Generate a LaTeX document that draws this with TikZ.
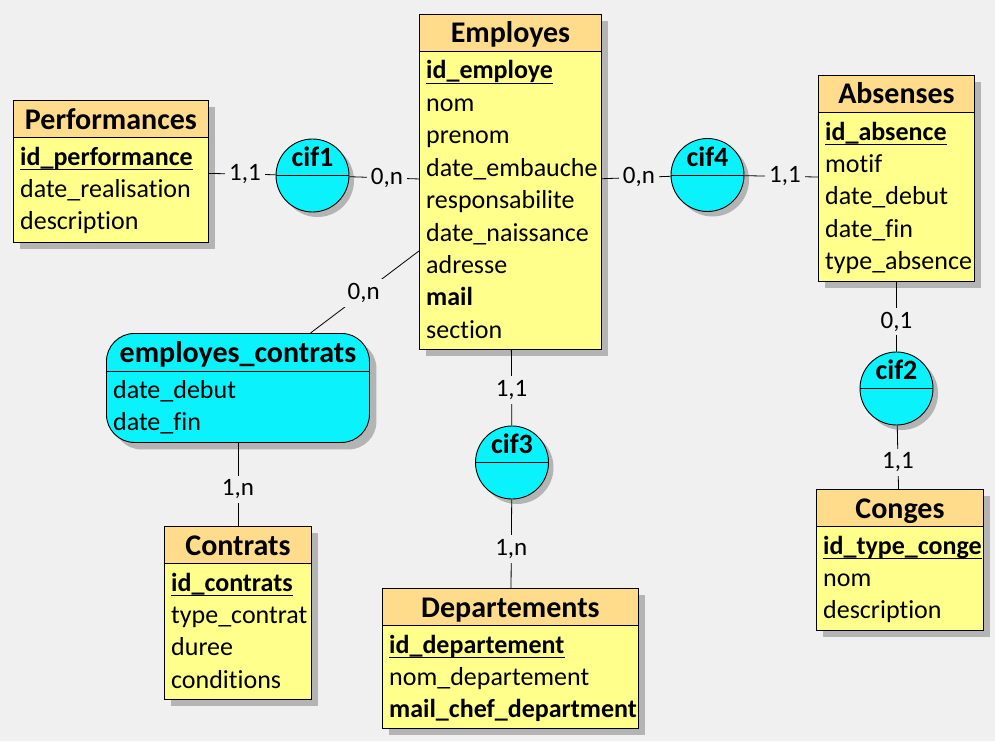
\documentclass[tikz,border=0pt]{standalone}
\usepackage{fontspec}
\setmainfont{Carlito}[Ligatures=NoCommon]
\usetikzlibrary{shadows,calc}

\definecolor{bg}{HTML}{F0F0F0}
\definecolor{hdr}{HTML}{FFDC8C}
\definecolor{entfill}{HTML}{FFFF8C}
\definecolor{assocfill}{HTML}{0AF2FC}
\definecolor{shade}{HTML}{B4B4B4}

\tikzset{
  x=1pt, y=-1pt,
  outline/.style={draw=black, line width=0.9pt},
  entbox/.style={outline, fill=entfill, rectangle, anchor=north west, inner sep=0pt,
    drop shadow={shadow xshift=7pt, shadow yshift=-7pt, opacity=1, fill=shade}},
  assocbox/.style={outline, fill=assocfill, rectangle, rounded corners=28pt, anchor=north west, inner sep=0pt,
    drop shadow={shadow xshift=7pt, shadow yshift=-7pt, opacity=1, fill=shade}},
  cifcircle/.style={outline, fill=assocfill, circle, minimum size=73pt, inner sep=0pt,
    drop shadow={shadow xshift=5pt, shadow yshift=-5pt, opacity=1, fill=shade}},
  titletext/.style={font=\fontsize{30}{30}\selectfont\bfseries, anchor=base, inner sep=0pt},
  ciftext/.style={font=\fontsize{28}{28}\selectfont\bfseries, anchor=base, inner sep=0pt},
  attrtext/.style={font=\fontsize{26}{26}\selectfont, anchor=base west, inner sep=0pt},
  keytext/.style={font=\fontsize{26}{26}\selectfont\bfseries, anchor=base west, inner sep=0pt},
  keyline/.style={line width=1.3pt},
  link/.style={line width=0.8pt},
  card/.style={fill=bg, inner sep=4pt, font=\fontsize{25}{25}\selectfont},
}

% entity box: name, x, y, width, height, title
\newcommand\entitybox[6]{%
  \node[entbox, minimum width=#4pt, minimum height=#5pt] (#1) at (#2,#3) {};
  \fill[hdr] (#1.north west) rectangle ($(#1.north east)+(0,37)$);
  \draw[outline] (#1.north west) rectangle (#1.south east);
  \draw[outline] ($(#1.north west)+(0,37)$) -- ($(#1.north east)+(0,37)$);
  \node[titletext] (#1-title) at ($(#1.north)+(0,29)$) {#6};
}
% attribute line: node name, box, index, style, text
\newcommand\attrib[5]{%
  \node[#4] (#1) at ($(#2.north west)+(7,{65+#3*32.4})$) {#5};
}
\newcommand\keyunder[1]{%
  \draw[keyline] ($(#1.base west)+(0,4.5)$) -- ($(#1.base east)+(0,4.5)$);
}
% relationship circle: name, x, y, label
\newcommand\cif[4]{%
  \node[cifcircle] (#1) at (#2,#3) {};
  \draw[outline] (#1.west) -- (#1.east);
  \node[ciftext] (#1-title) at ($(#1)+(0,-9)$) {#4};
}

\begin{document}
\begin{tikzpicture}
\fill[bg] (0,0) rectangle (995,741);
\useasboundingbox (0,0) rectangle (995,741);

% Employes
\entitybox{emp}{419}{14}{182}{335}{Employes}
\attrib{emp0}{emp}{0}{keytext}{id\_employe}\keyunder{emp0}
\attrib{emp1}{emp}{1}{attrtext}{nom}
\attrib{emp2}{emp}{2}{attrtext}{prenom}
\attrib{emp3}{emp}{3}{attrtext}{date\_embauche}
\attrib{emp4}{emp}{4}{attrtext}{responsabilite}
\attrib{emp5}{emp}{5}{attrtext}{date\_naissance}
\attrib{emp6}{emp}{6}{attrtext}{adresse}
\attrib{emp7}{emp}{7}{keytext}{mail}
\attrib{emp8}{emp}{8}{attrtext}{section}

% Performances
\entitybox{perf}{13}{100}{195}{142}{Performances}
\attrib{perf0}{perf}{0}{keytext}{id\_performance}\keyunder{perf0}
\attrib{perf1}{perf}{1}{attrtext}{date\_realisation}
\attrib{perf2}{perf}{2}{attrtext}{description}

% Absenses
\entitybox{abs}{818}{75}{156}{206}{Absenses}
\attrib{abs0}{abs}{0}{keytext}{id\_absence}\keyunder{abs0}
\attrib{abs1}{abs}{1}{attrtext}{motif}
\attrib{abs2}{abs}{2}{attrtext}{date\_debut}
\attrib{abs3}{abs}{3}{attrtext}{date\_fin}
\attrib{abs4}{abs}{4}{attrtext}{type\_absence}

% Conges
\entitybox{cong}{816}{489}{167}{141}{Conges}
\attrib{cong0}{cong}{0}{keytext}{id\_type\_conge}\keyunder{cong0}
\attrib{cong1}{cong}{1}{attrtext}{nom}
\attrib{cong2}{cong}{2}{attrtext}{description}

% Departements
\entitybox{dep}{382}{588}{256}{140}{Departements}
\attrib{dep0}{dep}{0}{keytext}{id\_departement}\keyunder{dep0}
\attrib{dep1}{dep}{1}{attrtext}{nom\_departement}
\attrib{dep2}{dep}{2}{keytext}{mail\_chef\_department}

% Contrats
\entitybox{contr}{164}{526}{147}{173}{Contrats}
\attrib{contr0}{contr}{0}{keytext}{id\_contrats}\keyunder{contr0}
\attrib{contr1}{contr}{1}{attrtext}{type\_contrat}
\attrib{contr2}{contr}{2}{attrtext}{duree}
\attrib{contr3}{contr}{3}{attrtext}{conditions}

% employes_contrats association
\node[assocbox, minimum width=263pt, minimum height=109pt] (ec) at (106,333) {};
\draw[outline] ($(ec.north west)+(0,38)$) -- ($(ec.north east)+(0,38)$);
\node[titletext] (ec-title) at ($(ec.north)+(0,29)$) {employes\_contrats};
\attrib{ec0}{ec}{0}{attrtext}{date\_debut}
\attrib{ec1}{ec}{1}{attrtext}{date\_fin}

% functional dependencies
\cif{cif1}{312.5}{175.5}{cif1}
\cif{cif4}{707.5}{175}{cif4}
\cif{cif2}{896.5}{388.5}{cif2}
\cif{cif3}{512}{462.5}{cif3}

% links with cardinalities
\draw[link] (perf) -- node[card, pos=0.54] (k1) {1,1} (cif1);
\draw[link] (cif1) -- node[card, pos=0.54] (k2) {0,n} (emp);
\draw[link] (emp) -- node[card, pos=0.54] (k3) {0,n} (cif4);
\draw[link] (cif4) -- node[card, pos=0.55] (k4) {1,1} (abs);
\draw[link] (abs) -- node[card, pos=0.57] (k5) {0,1} (cif2);
\draw[link] (cif2) -- node[card, pos=0.58] (k6) {1,1} (cong);
\draw[link] (emp) -- node[card, pos=0.53] (k7) {1,1} (cif3);
\draw[link] (cif3) -- node[card, pos=0.56] (k8) {1,n} (dep);
\draw[link] (ec) -- node[card, pos=0.49] (k9) {0,n} (emp);
\draw[link] (ec) -- node[card, pos=0.56] (k10) {1,n} (contr);
\end{tikzpicture}
\end{document}
